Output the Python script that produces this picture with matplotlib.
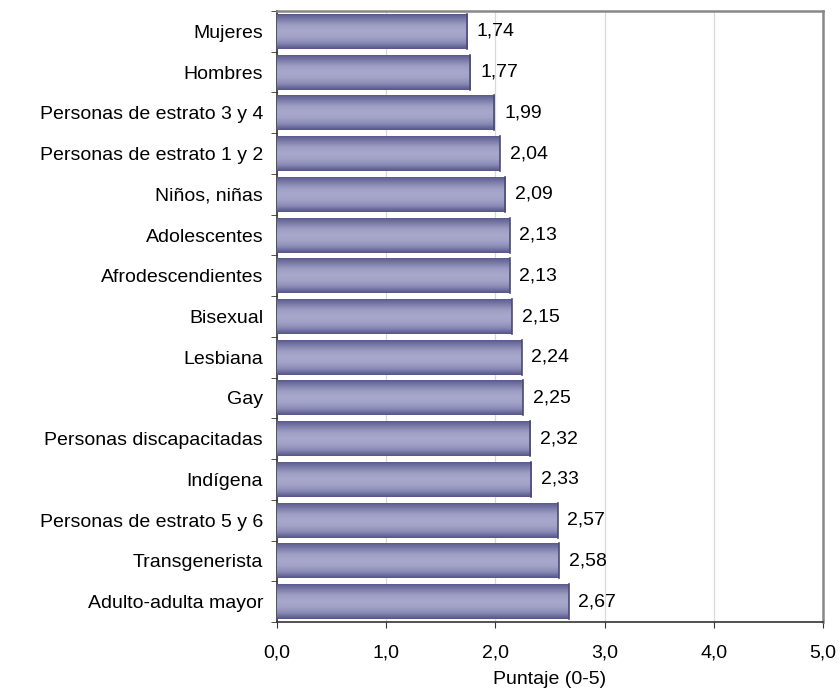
import numpy as np
import matplotlib
matplotlib.use("Agg")
import matplotlib.pyplot as plt
from matplotlib.colors import LinearSegmentedColormap

categories = ["Mujeres", "Hombres", "Personas de estrato 3 y 4", "Personas de estrato 1 y 2",
              "Niños, niñas", "Adolescentes", "Afrodescendientes", "Bisexual", "Lesbiana", "Gay",
              "Personas discapacitadas", "Indígena", "Personas de estrato 5 y 6",
              "Transgenerista", "Adulto-adulta mayor"]
values = [1.74, 1.77, 1.99, 2.04, 2.09, 2.13, 2.13, 2.15, 2.24, 2.25, 2.32, 2.33, 2.57, 2.58, 2.67]
xticks = [0, 1, 2, 3, 4, 5]
xticklabels = ["0,0", "1,0", "2,0", "3,0", "4,0", "5,0"]

plt.rcParams['font.family'] = ['Liberation Sans', 'DejaVu Sans']
FS = 14

fig = plt.figure(figsize=(8.4, 6.9), dpi=100)
L, R, T, B = 277, 823, 11, 622
ax = fig.add_axes([L/840, 1-B/690, (R-L)/840, (B-T)/690])

n = len(categories)
ypos = np.arange(n)
bars = ax.barh(ypos, values, height=0.86, color='none', edgecolor='none', zorder=3)

cmap = LinearSegmentedColormap.from_list('g', ['#55558a', '#7c7caa', '#9e9ec4', '#a8a8cc', '#a2a2c7', '#8a8ab5', '#55558a'])
grad = np.linspace(0, 1, 64).reshape(-1, 1)
for b in bars:
    x0, y0 = b.get_x(), b.get_y()
    w, h = b.get_width(), b.get_height()
    im = ax.imshow(grad, extent=[x0, x0 + w, y0 + h, y0], aspect='auto', cmap=cmap,
                   zorder=3, interpolation='bicubic')
    im.set_clip_path(b)
    ax.plot([x0 + w, x0 + w], [y0, y0 + h], color='#4a4a7a', lw=1.2, zorder=4)

for y, v in zip(ypos, values):
    ax.text(v + 0.09, y, f"{v:.2f}".replace('.', ','), va='center', ha='left', fontsize=FS, zorder=5)

ax.set_xlim(0, 5)
ax.set_ylim(n - 0.5, -0.5)
ax.set_xticks(xticks)
ax.set_xticklabels(xticklabels, fontsize=FS)
ax.set_yticks(ypos)
ax.set_yticklabels(categories, fontsize=FS)
ax.tick_params(axis='y', length=0, pad=10)
ax.set_yticks(np.arange(-0.5, n, 1), minor=True)
ax.tick_params(axis='y', which='minor', length=4, direction='out', color='#333333')
ax.tick_params(axis='x', length=4, direction='out', color='#333333', pad=12)
ax.xaxis.grid(True, color='#d9d9d9', lw=0.9, zorder=0)
ax.set_axisbelow(True)
for s in ['left', 'bottom']:
    ax.spines[s].set_color('#333333')
    ax.spines[s].set_linewidth(1.2)
for s in ['top', 'right']:
    ax.spines[s].set_color('#888888')
    ax.spines[s].set_linewidth(1.8)
ax.set_xlabel("Puntaje (0-5)", fontsize=FS, labelpad=7)

fig.savefig("out.png", dpi=100)
